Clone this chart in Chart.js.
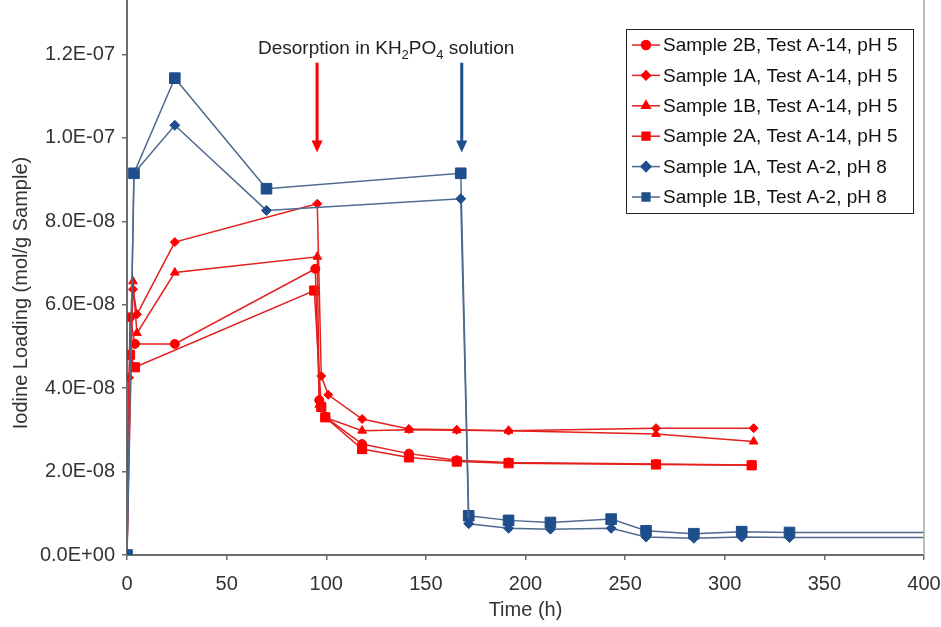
<!DOCTYPE html>
<html>
<head>
<meta charset="utf-8">
<script src="https://cdn.jsdelivr.net/npm/chart.js@4.4.1/dist/chart.umd.min.js"></script>
<style>
  body { margin: 0; background: #fff; }
  canvas { display: block; }
</style>
</head>
<body>
<canvas id="myChart" width="941" height="627"></canvas>
<script>
// loading values are in mol/g sample, times in hours
var labels = ['Sample 2B, Test A-14, pH 5', 'Sample 1A, Test A-14, pH 5', 'Sample 1B, Test A-14, pH 5',
  'Sample 2A, Test A-14, pH 5', 'Sample 1A, Test A-2, pH 8', 'Sample 1B, Test A-2, pH 8'];

var time2B = [0, 1.5, 4, 24, 94.5, 96.5, 99.5, 118, 141.5, 165.5, 191.5, 265.5, 313.5];
var load2B = [0, 5.7e-8, 5.06e-8, 5.06e-8, 6.86e-8, 3.71e-8, 3.31e-8, 2.66e-8, 2.43e-8, 2.27e-8, 2.22e-8, 2.18e-8, 2.16e-8];

var time1A = [0, 1, 3, 5, 24, 95.5, 97.5, 101, 118, 141.5, 165.5, 191.5, 265.5, 314.5];
var load1A = [0, 4.25e-8, 6.37e-8, 5.77e-8, 7.5e-8, 8.42e-8, 4.29e-8, 3.84e-8, 3.26e-8, 3.02e-8, 3.0e-8, 2.98e-8, 3.04e-8, 3.04e-8];

var time1B = [0, 3, 5, 24, 95.5, 96.5, 99.5, 118, 141.5, 165.5, 191.5, 265.5, 314.5];
var load1B = [0, 6.56e-8, 5.32e-8, 6.77e-8, 7.15e-8, 3.6e-8, 3.3e-8, 2.98e-8, 3.0e-8, 2.99e-8, 2.98e-8, 2.9e-8, 2.72e-8];

var time2A = [0, 1.5, 4, 94, 97.5, 99.5, 118, 141.5, 165.5, 191.5, 265.5, 313.5];
var load2A = [0, 4.8e-8, 4.5e-8, 6.34e-8, 3.55e-8, 3.3e-8, 2.54e-8, 2.34e-8, 2.24e-8, 2.2e-8, 2.17e-8, 2.15e-8];

var timeA2 = [0, 3.5, 24, 70, 167.5, 171.5, 191.5, 212.5, 243, 260.5, 284.5, 308.5, 332.5, 480];
var loadA2_1A = [0, 9.15e-8, 1.03e-7, 8.26e-8, 8.54e-8, 7.5e-9, 6.4e-9, 6.2e-9, 6.4e-9, 4.3e-9, 4.0e-9, 4.3e-9, 4.2e-9, 4.2e-9];
var loadA2_1B = [0, 9.15e-8, 1.143e-7, 8.78e-8, 9.15e-8, 9.4e-9, 8.3e-9, 7.8e-9, 8.6e-9, 5.8e-9, 5.1e-9, 5.6e-9, 5.4e-9, 5.4e-9];

var xTicks = [0, 50, 100, 150, 200, 250, 300, 350, 400];
var yTicks = [0, 2e-8, 4e-8, 6e-8, 8e-8, 1e-7, 1.2e-7];

// arrows: [time, top value, bottom value]
var arrowDesorbA14 = [95.4, 1.18e-7, 9.65e-8];
var arrowDesorbA2 = [168, 1.18e-7, 9.65e-8];

var FONT = "'Liberation Sans', Arial, sans-serif";
var RED = '#ff0000', REDLINE = '#e3201e', BLUE = '#1f4e8c', BLUELINE = '#4f6a8f';

function pts(t, v) {
  return t.map(function (x, i) { return { x: x, y: v[i] }; });
}

function sci(v) {
  if (v === 0) return '0.0E+00';
  var e = Math.floor(Math.log10(Math.abs(v)) + 1e-9);
  var m = v / Math.pow(10, e);
  var s = e < 0 ? '-' : '+';
  var ee = Math.abs(e);
  return m.toFixed(1) + 'E' + s + (ee < 10 ? '0' + ee : ee);
}

function ds(label, data, style, color, line, r, order) {
  return {
    label: label, data: data, showLine: true,
    borderColor: line, borderWidth: 1.5,
    pointStyle: style, pointRadius: r, pointHoverRadius: r,
    pointBackgroundColor: color, pointBorderColor: color, pointBorderWidth: 1,
    order: order
  };
}

var datasets = [
  ds(labels[0], pts(time2B, load2B), 'circle', RED, REDLINE, 4.5, 2),
  ds(labels[1], pts(time1A, load1A), 'rectRot', RED, REDLINE, 4.5, 2),
  ds(labels[2], pts(time1B, load1B), 'triangle', RED, REDLINE, 5, 2),
  ds(labels[3], pts(time2A, load2A), 'rect', RED, REDLINE, 6.5, 2),
  ds(labels[4], pts(timeA2, loadA2_1A), 'rectRot', BLUE, BLUELINE, 5, 1),
  ds(labels[5], pts(timeA2, loadA2_1B), 'rect', BLUE, BLUELINE, 7.5, 1)
];

var extras = {
  id: 'extras',
  afterDatasetsDraw: function (chart) {
    var ctx = chart.ctx, xs = chart.scales.x, ys = chart.scales.y, a = chart.chartArea;
    ctx.save();
    // frame lines running up to the top edge
    ctx.strokeStyle = '#a6a6a6'; ctx.lineWidth = 1.5;
    ctx.beginPath(); ctx.moveTo(a.right, 0); ctx.lineTo(a.right, a.bottom); ctx.stroke();
    ctx.strokeStyle = '#6d6d6d'; ctx.lineWidth = 2;
    ctx.beginPath(); ctx.moveTo(a.left, 0); ctx.lineTo(a.left, a.top + 1); ctx.stroke();

    // y axis title
    ctx.save();
    ctx.translate(21, 293); ctx.rotate(-Math.PI / 2);
    ctx.font = '20px ' + FONT; ctx.fillStyle = '#333';
    ctx.textAlign = 'center'; ctx.textBaseline = 'middle';
    ctx.fillText('Iodine Loading (mol/g Sample)', 0, 0);
    ctx.restore();

    // arrows
    [[arrowDesorbA14, RED], [arrowDesorbA2, BLUE]].forEach(function (ar) {
      var x = xs.getPixelForValue(ar[0][0]);
      var y0 = ys.getPixelForValue(ar[0][1]);
      var y1 = ys.getPixelForValue(ar[0][2]);
      ctx.strokeStyle = ar[1]; ctx.fillStyle = ar[1]; ctx.lineWidth = 3;
      ctx.beginPath(); ctx.moveTo(x, y0); ctx.lineTo(x, y1 - 10); ctx.stroke();
      ctx.beginPath(); ctx.moveTo(x - 5.5, y1 - 12); ctx.lineTo(x + 5.5, y1 - 12); ctx.lineTo(x, y1); ctx.closePath(); ctx.fill();
    });

    // annotation text with subscripts
    var parts = [['Desorption in KH', 0], ['2', 1], ['PO', 0], ['4', 1], [' solution', 0]];
    var tx = 258, ty = 49;
    ctx.fillStyle = '#222'; ctx.textBaseline = 'middle'; ctx.textAlign = 'left';
    parts.forEach(function (p) {
      ctx.font = (p[1] ? '13px ' : '19px ') + FONT;
      ctx.fillText(p[0], tx, ty + (p[1] ? 6 : 0));
      tx += ctx.measureText(p[0]).width;
    });

    // legend
    var lx = 626, ly = 29, lw = 287, lh = 184;
    ctx.fillStyle = '#fff'; ctx.fillRect(lx, ly, lw, lh);
    ctx.strokeStyle = '#222'; ctx.lineWidth = 1;
    ctx.strokeRect(lx + 0.5, ly + 0.5, lw, lh);
    ctx.font = '19px ' + FONT;
    chart.data.datasets.forEach(function (d, i) {
      var y = 45 + i * 30.4;
      ctx.strokeStyle = d.borderColor; ctx.lineWidth = 1.5;
      ctx.beginPath(); ctx.moveTo(632, y); ctx.lineTo(660, y); ctx.stroke();
      ctx.fillStyle = d.pointBackgroundColor; ctx.strokeStyle = d.pointBorderColor;
      Chart.helpers.drawPoint(ctx, { pointStyle: d.pointStyle, radius: Math.min(d.pointRadius, 5.5), rotation: 0, borderWidth: 1 }, 646, y);
      ctx.fillStyle = '#111'; ctx.textBaseline = 'middle';
      ctx.fillText(d.label, 663, y + 1);
    });
    ctx.restore();
  }
};

new Chart(document.getElementById('myChart'), {
  type: 'scatter',
  data: { datasets: datasets },
  options: {
    responsive: false,
    animation: false,
    layout: { padding: { left: 0, right: 17, top: 0, bottom: 0 } },
    plugins: { legend: { display: false }, tooltip: { enabled: false } },
    scales: {
      x: {
        type: 'linear', min: 0, max: 400,
        afterBuildTicks: function (s) { s.ticks = xTicks.map(function (v) { return { value: v }; }); },
        afterFit: function (s) { s.height = 72; s.paddingLeft = 0; s.paddingRight = 0; },
        grid: { drawOnChartArea: false, tickLength: 5, color: '#6d6d6d', lineWidth: 1.5 },
        border: { color: '#6d6d6d', width: 2 },
        ticks: { color: '#333', font: { family: FONT, size: 20 }, padding: 12, maxRotation: 0 },
        title: { display: true, text: 'Time (h)', color: '#333', font: { family: FONT, size: 20 }, padding: { top: 0, bottom: 5 } }
      },
      y: {
        type: 'linear', min: 0, max: 1.31e-7,
        afterBuildTicks: function (s) { s.ticks = yTicks.map(function (v) { return { value: v }; }); },
        afterFit: function (s) { s.width = 127; s.paddingTop = 0; s.paddingBottom = 0; },
        grid: { drawOnChartArea: false, tickLength: 5, color: '#6d6d6d', lineWidth: 1.5 },
        border: { color: '#6d6d6d', width: 2 },
        ticks: { color: '#333', font: { family: FONT, size: 20 }, padding: 7, callback: function (v) { return sci(v); } },
        title: { display: false }
      }
    }
  },
  plugins: [extras]
});
</script>
</body>
</html>
